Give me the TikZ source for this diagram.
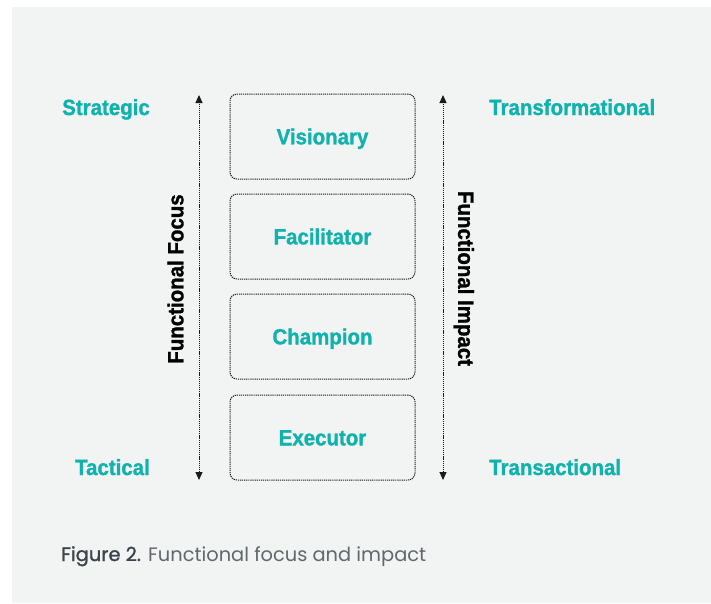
\documentclass[tikz,border=0pt]{standalone}
\usepackage{fontspec}
\setmainfont{Liberation Sans}
\newfontfamily\lblfont{Liberation Sans Bold}[FakeBold=1.3]
\newfontfamily\capfont{Poppins}
\newfontfamily\capboldfont{Poppins}[FakeBold=1.2]
\usetikzlibrary{arrows.meta}
\definecolor{panel}{HTML}{F2F3F3}
\definecolor{tealtxt}{HTML}{10B2AD}
\definecolor{dotline}{HTML}{1A1A1A}
\definecolor{capdark}{HTML}{3B444C}
\definecolor{caplight}{HTML}{60676E}
\newcommand{\sq}[1]{\scalebox{0.93}[1]{#1}}
\tikzset{
  lbl/.style={font=\lblfont\fontsize{22}{26}\selectfont, text=tealtxt, inner sep=0pt},
  rolebox/.style={draw=dotline, line width=1pt, dash pattern=on 1.2pt off 0.9pt,
    rounded corners=7pt, minimum width=185pt, minimum height=85pt, inner sep=0pt,
    font=\lblfont\fontsize{22}{26}\selectfont, text=tealtxt, text height=15.7pt, text depth=0pt},
  axislbl/.style={font=\lblfont\fontsize{22}{26}\selectfont, text=black, inner sep=0pt,
    text height=15.7pt, text depth=0pt},
  axisline/.style={draw=dotline, line width=1pt, dash pattern=on 1.2pt off 0.9pt,
    {Triangle[length=8pt,width=7pt]}-{Triangle[length=8pt,width=7pt]}}
}
\begin{document}
\begin{tikzpicture}[x=1pt,y=-1pt]
\useasboundingbox (0,0) rectangle (711,603);
\fill[panel] (12,7) rectangle (711,603);
% boxes
\node[rolebox] (vis) at (322.5,136.5) {\sq{Visionary}};
\node[rolebox] (fac) at (322.5,236.5) {\sq{Facilitator}};
\node[rolebox] (cha) at (322.5,336.5) {\sq{Champion}};
\node[rolebox] (exe) at (322.5,437.5) {\sq{Executor}};
% axes
\coordinate (lt) at (199,95);
\coordinate (lb) at (199,480);
\coordinate (rt) at (443,95);
\coordinate (rb) at (443,480);
\draw[axisline] (lb) -- (lt);
\draw[axisline] (rb) -- (rt);
\node[axislbl, rotate=90] (ff) at (175.5,279) {\sq{Functional Focus}};
\node[axislbl, rotate=-90] (fi) at (466,278.5) {\sq{Functional Impact}};
% side labels
\node[lbl, anchor=base east] (str) at (150,115) {\sq{Strategic}};
\node[lbl, anchor=base east] (tac) at (150,475) {\sq{Tactical}};
\node[lbl, anchor=base west] (trf) at (489,115) {\sq{Transformational}};
\node[lbl, anchor=base west] (trs) at (489,475) {\sq{Transactional}};
% caption
\node[anchor=base west, inner sep=0pt, font=\fontsize{19.4}{23}\selectfont] (cap) at (61,561)
  {{\capboldfont\color{capdark}Figure 2.} {\capfont\color{caplight}Functional focus and impact}};
\end{tikzpicture}
\end{document}
